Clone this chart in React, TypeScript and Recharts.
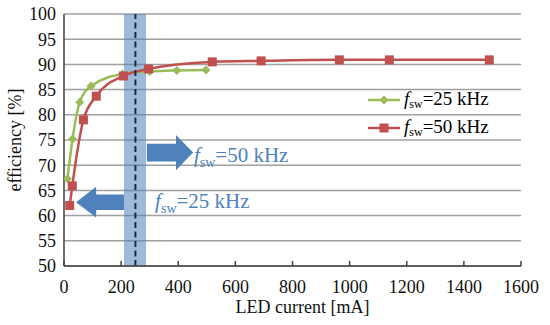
import React from "react";
import {
  LineChart, Line, XAxis, YAxis, CartesianGrid,
  ReferenceArea, ReferenceLine, ReferenceDot,
} from "recharts";

const currentsGreen = [12, 30, 55, 95, 205, 300, 395, 497];
const effGreen      = [67.3, 75.2, 82.5, 85.7, 88.1, 88.6, 88.8, 88.9];

const currentsRed = [20, 29, 68, 113, 208, 296, 519, 690, 964, 1139, 1489];
const effRed      = [62.0, 65.9, 79.0, 83.7, 87.7, 89.1, 90.5, 90.7, 90.9, 90.9, 90.9];

const xTicks = [0, 200, 400, 600, 800, 1000, 1200, 1400, 1600];
const yTicks = [50, 55, 60, 65, 70, 75, 80, 85, 90, 95, 100];

const seriesNames = ["25 kHz", "50 kHz"];

const green = "#9bbb59";
const red   = "#c0504d";
const blue  = "#4f81bd";
const font  = "Liberation Serif, Times New Roman, serif";

const greenData = currentsGreen.map((x, i) => ({ x, y: effGreen[i] }));
const redData   = currentsRed.map((x, i) => ({ x, y: effRed[i] }));

const Diamond = (p: any) => {
  const { cx, cy } = p;
  if (cx == null || cy == null) return null;
  const r = 4.5;
  return <polygon points={`${cx},${cy - r} ${cx + r},${cy} ${cx},${cy + r} ${cx - r},${cy}`} fill={green} />;
};

const Square = (p: any) => {
  const { cx, cy } = p;
  if (cx == null || cy == null) return null;
  return <rect x={cx - 4.5} y={cy - 4.5} width={9} height={9} fill={red} />;
};

// block arrow drawn inside a reference area box
const arrowShape = (dir: "left" | "right") => (p: any) => {
  const { x, y, width: w, height: h } = p;
  const bodyTop = y + h * 0.25, bodyBot = y + h * 0.75, mid = y + h / 2;
  if (dir === "right") {
    const hx = x + w * 0.63;
    return <polygon fill={blue} points={`${x},${bodyTop} ${hx},${bodyTop} ${hx},${y} ${x + w},${mid} ${hx},${y + h} ${hx},${bodyBot} ${x},${bodyBot}`} />;
  }
  const hx = x + w * 0.42;
  return <polygon fill={blue} points={`${x + w},${bodyTop} ${hx},${bodyTop} ${hx},${y} ${x},${mid} ${hx},${y + h} ${hx},${bodyBot} ${x + w},${bodyBot}`} />;
};

const fswText = (label: string) => (p: any) => (
  <text x={p.cx} y={p.cy} fill="#4f81bd" style={{ fontFamily: font, fontSize: 21 }}>
    <tspan fontStyle="italic">f</tspan>
    <tspan style={{ fontSize: 14 }} dy={5}>sw</tspan>
    <tspan dy={-5}>={label}</tspan>
  </text>
);

const LegendBox = () => (
  <div style={{ position: "absolute", top: 86, left: 368, fontFamily: font, fontSize: 19, color: "#000" }}>
    {[{ c: green, m: "d" }, { c: red, m: "s" }].map((s, i) => (
      <div key={i} style={{ display: "flex", alignItems: "center", height: 28 }}>
        <svg width={34} height={14}>
          <line x1={0} y1={7} x2={32} y2={7} stroke={s.c} strokeWidth={2.5} />
          {s.m === "d"
            ? <polygon points="16,2.5 20.5,7 16,11.5 11.5,7" fill={s.c} />
            : <rect x={11.5} y={2.5} width={9} height={9} fill={s.c} />}
        </svg>
        <span style={{ marginLeft: 2 }}>
          <i>f</i><sub style={{ fontSize: 12, verticalAlign: "-3px" }}>sw</sub>={seriesNames[i]}
        </span>
      </div>
    ))}
  </div>
);

const axisText = { fontFamily: font, fontSize: 18, fill: "#111" };

const XTitle = (p: any) => {
  const vb = p.viewBox;
  return (
    <text x={vb.x + vb.width / 2 + 10} y={vb.y + vb.height - 12} textAnchor="middle" style={axisText}>
      LED current [mA]
    </text>
  );
};

export default function App() {
  return (
    <div style={{ position: "absolute", left: 0, top: 0, width: 550, height: 325, background: "#fff", fontFamily: font }}>
      <LineChart width={550} height={325} margin={{ top: 14, right: 29, bottom: 0, left: 0 }}>
        <CartesianGrid vertical={false} stroke="#a0a0a0" strokeWidth={1.5} />
        <XAxis
          type="number" dataKey="x" domain={[0, 1600]} ticks={xTicks} allowDataOverflow
          height={59} stroke="#404040" strokeWidth={1.5}
          tickSize={-5} tickMargin={19}
          tick={{ ...axisText, style: axisText }}
          label={<XTitle />}
        />
        <XAxis xAxisId="top" orientation="top" type="number" domain={[0, 1600]} height={0} tick={false} tickLine={false} stroke="#404040" strokeWidth={1.5} />
        <YAxis
          type="number" domain={[50, 100]} ticks={yTicks} interval={0} width={64}
          stroke="#404040" strokeWidth={1.5} tickSize={0} tickMargin={8}
          tick={{ ...axisText, style: axisText }}
          label={{ value: "efficiency [%]", angle: -90, position: "insideLeft", offset: 15, style: { ...axisText, textAnchor: "middle" } }}
        />
        <YAxis yAxisId="right" orientation="right" type="number" domain={[50, 100]} width={0} tick={false} tickLine={false} stroke="#404040" strokeWidth={1.5} />

        <Line data={greenData} dataKey="y" type="monotone" stroke={green} strokeWidth={2.5} dot={<Diamond />} activeDot={false} isAnimationActive={false} />
        <Line data={redData} dataKey="y" type="monotone" stroke={red} strokeWidth={2.5} dot={<Square />} activeDot={false} isAnimationActive={false} />

        <ReferenceArea x1={210} x2={287} y1={50} y2={100} fill={blue} fillOpacity={0.55} stroke="none" />
        <ReferenceLine x={250} stroke="#1f2a44" strokeWidth={2} strokeDasharray="6 3.5" />

        <ReferenceArea x1={290} x2={452} y1={69.0} y2={76.0} shape={arrowShape("right")} />
        <ReferenceArea x1={42} x2={210} y1={59.6} y2={65.7} shape={arrowShape("left")} />
        <ReferenceDot x={455} y={70.7} r={0} shape={fswText("50 kHz")} />
        <ReferenceDot x={319} y={61.6} r={0} shape={fswText("25 kHz")} />
      </LineChart>
      <LegendBox />
    </div>
  );
}
